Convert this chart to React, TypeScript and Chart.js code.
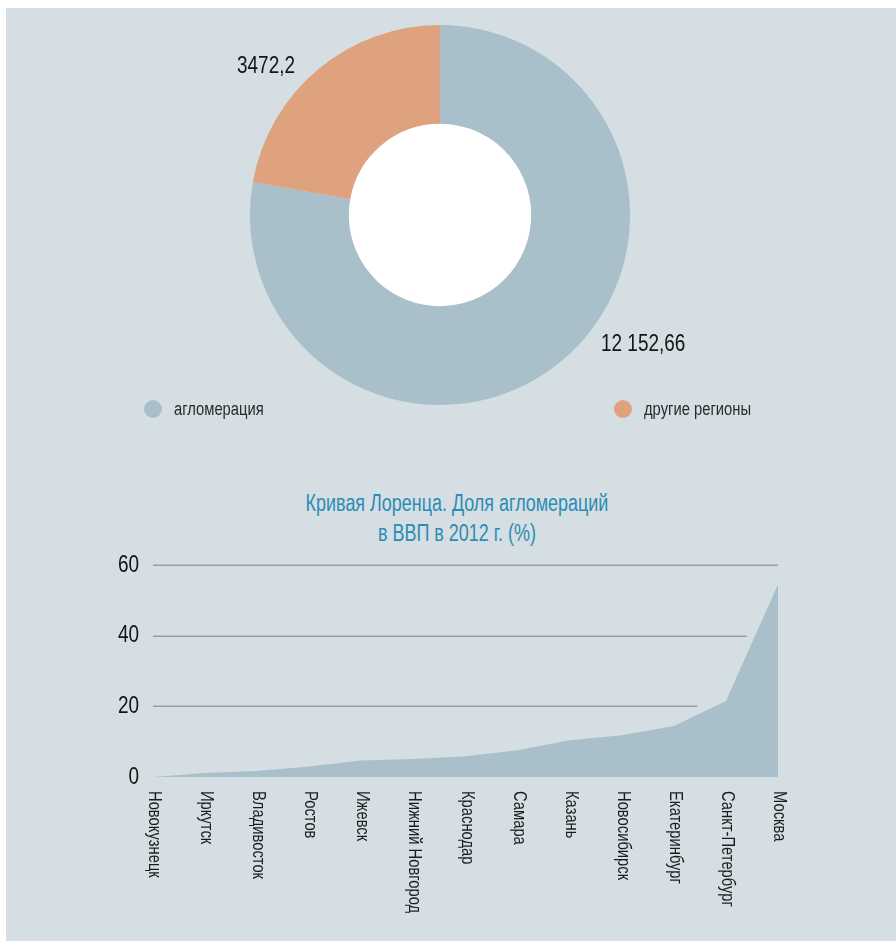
import React, { useEffect, useRef } from "react";
import { Chart, registerables } from "chart.js";

Chart.register(...registerables);

const FONT = '"Liberation Sans", Arial, sans-serif';
const NARROW = 0.8; // horizontal compression to imitate a condensed typeface

// Doughnut data
const pieLabels = ["агломерация", "другие регионы"];
const pieValues = [12152.66, 3472.2];
const pieValueTexts = ["12 152,66", "3472,2"];
const pieColors = ["#a9c0ca", "#dea27e"];

// Lorenz curve data
const titleLines = ["Кривая Лоренца. Доля агломераций", "в ВВП в 2012 г. (%)"];
const cities = [
  "Новокузнецк",
  "Иркутск",
  "Владивосток",
  "Ростов",
  "Ижевск",
  "Нижний Новгород",
  "Краснодар",
  "Самара",
  "Казань",
  "Новосибирск",
  "Екатеринбург",
  "Санкт-Петербург",
  "Москва",
];
const shares = [0, 1.1, 1.7, 3.0, 4.7, 5.1, 5.9, 7.6, 10.4, 11.8, 14.4, 21.5, 54.5];
const yTickValues = [0, 20, 40, 60];
const gridValues = [20, 40, 60];
const gridEnds = [10.45, 11.4, 12];

const holePlugin = {
  id: "whiteHole",
  beforeDatasetsDraw(chart: any) {
    const arc = chart.getDatasetMeta(0).data[0];
    if (!arc) return;
    const { ctx } = chart;
    ctx.save();
    ctx.fillStyle = "#ffffff";
    ctx.beginPath();
    ctx.arc(arc.x, arc.y, arc.innerRadius + 0.5, 0, Math.PI * 2);
    ctx.fill();
    ctx.restore();
  },
};

const pieValueLabelPlugin = {
  id: "pieValueLabels",
  afterDraw(chart: any) {
    const { ctx, chartArea } = chart;
    const cx = (chartArea.left + chartArea.right) / 2;
    const cy = (chartArea.top + chartArea.bottom) / 2;
    const offsets = [
      [161, 136],
      [-203, -142],
    ];
    ctx.font = `24px ${FONT}`;
    ctx.fillStyle = "#141414";
    ctx.textAlign = "left";
    ctx.textBaseline = "alphabetic";
    pieValueTexts.forEach((t, i) => {
      ctx.save();
      ctx.translate(cx + offsets[i][0], cy + offsets[i][1]);
      ctx.scale(0.79, 1);
      ctx.fillText(t, 0, 0);
      ctx.restore();
    });
  },
};

const gridPlugin = {
  id: "stepGrid",
  beforeDatasetsDraw(chart: any) {
    const { ctx, scales } = chart;
    const x = scales.x;
    const y = scales.y;
    ctx.save();
    ctx.strokeStyle = "#9a9fa2";
    ctx.lineWidth = 1.5;
    gridValues.forEach((v, i) => {
      const py = Math.round(y.getPixelForValue(v)) + 0.25;
      ctx.beginPath();
      ctx.moveTo(x.getPixelForValue(0), py);
      ctx.lineTo(x.getPixelForValue(gridEnds[i]), py);
      ctx.stroke();
    });
    ctx.restore();
  },
};

const axisLabelPlugin = {
  id: "axisLabels",
  afterDraw(chart: any) {
    const { ctx, scales, chartArea } = chart;
    const x = scales.x;
    const y = scales.y;
    // y tick labels
    ctx.font = `24px ${FONT}`;
    ctx.fillStyle = "#141414";
    ctx.textAlign = "right";
    ctx.textBaseline = "middle";
    yTickValues.forEach((v) => {
      ctx.save();
      ctx.translate(chartArea.left - 14, y.getPixelForValue(v));
      ctx.scale(0.79, 1);
      ctx.fillText(String(v), 0, 0);
      ctx.restore();
    });
    // x category labels, rotated clockwise
    ctx.font = `18px ${FONT}`;
    ctx.fillStyle = "#1c1c1c";
    ctx.textAlign = "left";
    ctx.textBaseline = "middle";
    cities.forEach((c, i) => {
      ctx.save();
      ctx.translate(x.getPixelForValue(i) + 1, chartArea.bottom + 14);
      ctx.rotate(Math.PI / 2);
      ctx.scale(0.82, 1);
      ctx.fillText(c, 0, 0);
      ctx.restore();
    });
  },
};

export default function App() {
  const pieRef = useRef<HTMLCanvasElement | null>(null);
  const lineRef = useRef<HTMLCanvasElement | null>(null);

  useEffect(() => {
    const pie = new Chart(pieRef.current as HTMLCanvasElement, {
      type: "doughnut",
      data: {
        labels: pieLabels,
        datasets: [
          {
            data: pieValues,
            backgroundColor: pieColors,
            borderWidth: 0,
          },
        ],
      },
      options: {
        animation: false,
        responsive: false,
        cutout: "48%",
        layout: { padding: { left: 244, right: 266, top: 17, bottom: 23 } },
        plugins: { legend: { display: false }, tooltip: { enabled: false } },
      },
      plugins: [holePlugin, pieValueLabelPlugin],
    });

    const line = new Chart(lineRef.current as HTMLCanvasElement, {
      type: "line",
      data: {
        labels: cities,
        datasets: [
          {
            data: shares,
            fill: "origin",
            backgroundColor: "#a9c0ca",
            borderWidth: 0,
            pointRadius: 0,
            tension: 0,
          },
        ],
      },
      options: {
        animation: false,
        responsive: false,
        layout: { padding: { left: 147, right: 118, top: 17, bottom: 164 } },
        plugins: { legend: { display: false }, tooltip: { enabled: false } },
        scales: {
          x: {
            type: "category",
            display: false,
            offset: false,
          },
          y: {
            display: false,
            min: 0,
            max: 60,
          },
        },
      },
      plugins: [gridPlugin, axisLabelPlugin],
    });

    return () => {
      pie.destroy();
      line.destroy();
    };
  }, []);

  const legendItem = (label: string, color: string, left: number) => (
    <div
      key={label}
      style={{
        position: "absolute",
        left,
        top: 390,
        height: 22,
        display: "flex",
        alignItems: "center",
        whiteSpace: "nowrap",
      }}
    >
      <span
        style={{
          display: "inline-block",
          width: 18,
          height: 18,
          borderRadius: "50%",
          background: color,
          marginRight: 12,
        }}
      />
      <span
        style={{
          display: "inline-block",
          fontFamily: FONT,
          fontSize: 18,
          color: "#2a2a2a",
          lineHeight: "22px",
          transform: "scaleX(0.82)",
          transformOrigin: "left center",
        }}
      >
        {label}
      </span>
    </div>
  );

  return (
    <div
      style={{
        position: "absolute",
        left: 6,
        top: 8,
        width: 890,
        height: 933,
        background: "#d5dee3",
        overflow: "hidden",
      }}
    >
      <canvas
        ref={pieRef}
        width={890}
        height={420}
        style={{ position: "absolute", left: 0, top: 0, width: 890, height: 420 }}
      />
      <canvas
        ref={lineRef}
        width={890}
        height={393}
        style={{ position: "absolute", left: 0, top: 540, width: 890, height: 393 }}
      />
      {legendItem(pieLabels[0], pieColors[0], 138)}
      {legendItem(pieLabels[1], pieColors[1], 608)}
      <div
        style={{
          position: "absolute",
          left: 201,
          top: 480,
          width: 500,
          textAlign: "center",
          fontFamily: FONT,
          fontSize: 23,
          lineHeight: "30px",
          color: "#2b8cb4",
        }}
      >
        {titleLines.map((l) => (
          <div key={l} style={{ transform: `scaleX(${0.78})`, transformOrigin: "center", whiteSpace: "nowrap" }}>
            {l}
          </div>
        ))}
      </div>
    </div>
  );
}
